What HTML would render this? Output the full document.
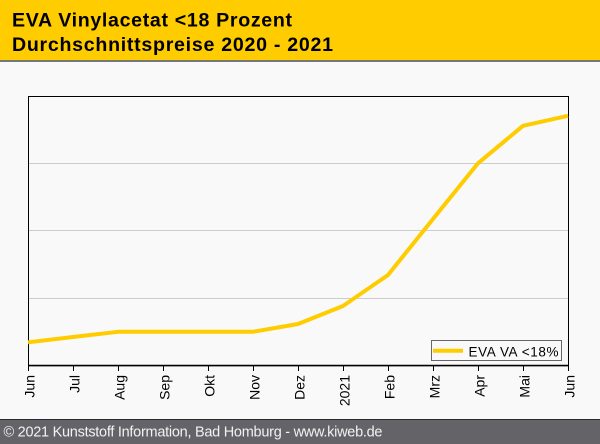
<!DOCTYPE html>
<html><head><meta charset="utf-8"><style>
html,body{margin:0;padding:0;background:#f9f9f9;}
svg{display:block;}
</style></head><body>
<svg width="600" height="444" viewBox="0 0 600 444" xmlns="http://www.w3.org/2000/svg" font-family="Liberation Sans, Arial, sans-serif">
<rect x="0" y="0" width="600" height="444" fill="#f9f9f9"/>
<rect x="0" y="0" width="600" height="60" fill="#ffcc00"/>
<rect x="0" y="60" width="600" height="2" fill="#777777"/>
<text x="12" y="26.7" font-size="19.6" font-weight="bold" fill="#000" textLength="280" lengthAdjust="spacing">EVA Vinylacetat &lt;18 Prozent</text>
<text x="12" y="51" font-size="19.6" font-weight="bold" fill="#000" textLength="321" lengthAdjust="spacing">Durchschnittspreise 2020 - 2021</text>

<g stroke="#cccccc" stroke-width="1">
<line x1="29" y1="163.5" x2="568" y2="163.5"/>
<line x1="29" y1="230.5" x2="568" y2="230.5"/>
<line x1="29" y1="298.5" x2="568" y2="298.5"/>
</g>
<rect x="28.5" y="96.5" width="540" height="269" fill="none" stroke="#000" stroke-width="1"/>
<line x1="28" y1="365.6" x2="569" y2="365.6" stroke="#000" stroke-width="1.6"/>
<g stroke="#000" stroke-width="1">
<line x1="28.5" y1="366" x2="28.5" y2="371"/>
<line x1="73.5" y1="366" x2="73.5" y2="371"/>
<line x1="118.5" y1="366" x2="118.5" y2="371"/>
<line x1="163.5" y1="366" x2="163.5" y2="371"/>
<line x1="208.5" y1="366" x2="208.5" y2="371"/>
<line x1="253.5" y1="366" x2="253.5" y2="371"/>
<line x1="298.5" y1="366" x2="298.5" y2="371"/>
<line x1="343.5" y1="366" x2="343.5" y2="371"/>
<line x1="388.5" y1="366" x2="388.5" y2="371"/>
<line x1="433.5" y1="366" x2="433.5" y2="371"/>
<line x1="478.5" y1="366" x2="478.5" y2="371"/>
<line x1="523.5" y1="366" x2="523.5" y2="371"/>
<line x1="568.5" y1="366" x2="568.5" y2="371"/>
</g>
<g font-size="14" fill="#000" text-anchor="end">
<text transform="translate(34.5,375) rotate(-90)">Jun</text>
<text transform="translate(79.5,375) rotate(-90)">Jul</text>
<text transform="translate(124.5,375) rotate(-90)">Aug</text>
<text transform="translate(169.5,375) rotate(-90)">Sep</text>
<text transform="translate(214.5,375) rotate(-90)">Okt</text>
<text transform="translate(259.5,375) rotate(-90)">Nov</text>
<text transform="translate(304.5,375) rotate(-90)">Dez</text>
<text transform="translate(349.5,375) rotate(-90)">2021</text>
<text transform="translate(394.5,375) rotate(-90)">Feb</text>
<text transform="translate(439.5,375) rotate(-90)">Mrz</text>
<text transform="translate(484.5,375) rotate(-90)">Apr</text>
<text transform="translate(529.5,375) rotate(-90)">Mai</text>
<text transform="translate(574.5,375) rotate(-90)">Jun</text>
</g>

<polyline fill="none" stroke="#ffcc00" stroke-width="4" stroke-linejoin="round"
points="28,342.3 73,337 118,331.8 163,331.8 208,331.8 253,331.8 298,324 343,306 388,275 433,219 478,163.3 523,125.8 568,115.8"/>

<rect x="431.5" y="340.5" width="130" height="20" fill="#f9f9f9" stroke="#666" stroke-width="1"/>
<line x1="433" y1="350.7" x2="463" y2="350.7" stroke="#ffcc00" stroke-width="4"/>
<text x="468.5" y="356.5" font-size="13.5" fill="#000" textLength="90" lengthAdjust="spacing">EVA VA &lt;18%</text>

<rect x="0" y="419" width="600" height="25" fill="#646468"/>
<rect x="0" y="419" width="600" height="1" fill="#2a2a2a"/>
<text x="3.5" y="436.7" font-size="14.5" fill="#f2f2f2" textLength="379" lengthAdjust="spacing">© 2021 Kunststoff Information, Bad Homburg - www.kiweb.de</text>
</svg>
</body></html>
